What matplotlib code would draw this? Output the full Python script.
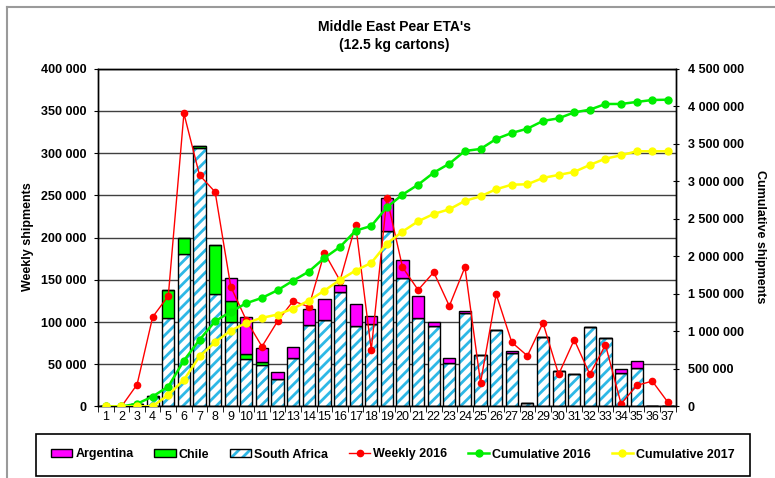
import matplotlib
matplotlib.use("Agg")
import matplotlib.pyplot as plt
from matplotlib.patches import Patch
from matplotlib.lines import Line2D
from matplotlib.legend_handler import HandlerTuple
from matplotlib.ticker import FuncFormatter, MultipleLocator, FixedLocator

plt.rcParams['font.family'] = ['Liberation Sans', 'DejaVu Sans']
plt.rcParams['hatch.linewidth'] = 2.0

# --- DATA ---
weeks = list(range(1, 38))

south_africa = [0, 0, 3000, 11000, 105000, 180000, 306000, 133000, 100000, 56000,
                49000, 32000, 58000, 97000, 102000, 135000, 95000, 98000, 208000, 152000,
                105000, 95000, 52000, 111000, 61000, 90000, 63500, 4500, 82500, 42500,
                38500, 94000, 81000, 40000, 46000, 0, 0]
chile = [0, 0, 0, 1000, 33000, 19000, 3000, 58000, 25000, 6000,
         4000, 0, 0, 0, 0, 0, 0, 0, 0, 0,
         0, 0, 0, 0, 0, 0, 0, 0, 0, 0,
         0, 0, 0, 0, 0, 0, 0]
argentina = [0, 0, 0, 0, 0, 0, 0, 0, 27000, 44000,
             16000, 9000, 12000, 19000, 25000, 9000, 26000, 9000, 39000, 22000,
             26000, 5000, 6000, 2000, 0, 0, 2000, 0, 0, 0,
             0, 0, 0, 4000, 8000, 0, 0]

weekly_2016 = [0, 0, 26000, 106000, 131000, 347000, 274000, 254000, 142000, 102000,
               71000, 101000, 125000, 118000, 182000, 149000, 215000, 67000, 247000, 165000,
               138000, 159000, 119000, 165000, 28000, 133000, 76000, 60000, 99000, 38000,
               79000, 38000, 73000, 3000, 25000, 30000, 5000]

cum_2016 = [0, 0, 36000, 133000, 266000, 612000, 888000, 1136000, 1262000, 1376000,
            1447000, 1549000, 1677000, 1797000, 1979000, 2126000, 2343000, 2405000, 2654000, 2822000,
            2955000, 3115000, 3235000, 3404000, 3431000, 3564000, 3644000, 3701000, 3804000, 3839000,
            3918000, 3954000, 4030000, 4030000, 4057000, 4083000, 4087000]

cum_2017 = [0, 0, 0, 4000, 155000, 355000, 666000, 856000, 1012000, 1114000,
            1181000, 1225000, 1305000, 1411000, 1544000, 1687000, 1811000, 1913000, 2170000, 2330000,
            2467000, 2565000, 2627000, 2739000, 2800000, 2894000, 2955000, 2960000, 3045000, 3085000,
            3125000, 3218000, 3302000, 3346000, 3400000, 3400000, 3400000]

# --- COLOURS ---
SA_BLUE = '#2EB8E6'
CHILE_GREEN = '#00FF00'
ARG_MAGENTA = '#FF00FF'

fig = plt.figure(figsize=(7.75, 4.78), dpi=100)
ax = fig.add_axes([0.1265, 0.1496, 0.7454, 0.7067])
ax2 = ax.twinx()

# outer chart border (left + top only visible)
fig.add_artist(Line2D([7/775, 7/775], [0, 1 - 7/478], color='#9a9a9a', lw=1.5))
fig.add_artist(Line2D([7/775, 1], [1 - 7/478, 1 - 7/478], color='#9a9a9a', lw=1.5))

bw = 0.78
# South Africa: hatched layer then black outline
ax.bar(weeks, south_africa, width=bw, color='white', edgecolor=SA_BLUE, hatch='///',
       linewidth=0, zorder=2)
ax.bar(weeks, south_africa, width=bw, color='none', edgecolor='black', linewidth=1, zorder=3)
bottom_c = south_africa
ax.bar(weeks, chile, width=bw, bottom=bottom_c, color=CHILE_GREEN, edgecolor='black',
       linewidth=1, zorder=3)
bottom_a = [s + c for s, c in zip(south_africa, chile)]
ax.bar(weeks, argentina, width=bw, bottom=bottom_a, color=ARG_MAGENTA, edgecolor='black',
       linewidth=1, zorder=3)

ax.plot(weeks, weekly_2016, color='red', lw=1, marker='o', markersize=4.5, zorder=4)
ax2.plot(weeks, cum_2016, color='#00EE00', lw=1.8, marker='o', markersize=5, zorder=4)
ax2.plot(weeks, cum_2017, color='#FFFF00', lw=1.8, marker='o', markersize=5, zorder=5)

# axes setup
ax.set_xlim(0.5, 37.5)
ax.set_ylim(0, 400000)
ax2.set_ylim(0, 4500000)

space_fmt = FuncFormatter(lambda v, p: f"{int(v):,}".replace(",", " "))
ax.yaxis.set_major_locator(MultipleLocator(50000))
ax.yaxis.set_major_formatter(space_fmt)
ax2.yaxis.set_major_locator(MultipleLocator(500000))
ax2.yaxis.set_major_formatter(space_fmt)

ax.set_axisbelow(True)
ax.yaxis.grid(True, color='#404040', lw=1)

ax.set_xticks(weeks)
ax.set_xticklabels([str(w) for w in weeks])
ax.xaxis.set_minor_locator(FixedLocator([w + 0.5 for w in range(0, 38)]))
ax.tick_params(axis='x', which='major', length=0, pad=3, labelsize=9)
ax.tick_params(axis='x', which='minor', length=4, direction='out', color='black')
ax.tick_params(axis='y', length=3, direction='out', pad=5.5, labelsize=9)
ax2.tick_params(axis='y', length=5, direction='inout', pad=6, labelsize=9)
for lab in ax.get_yticklabels() + ax2.get_yticklabels():
    lab.set_fontweight('bold')

for a in (ax, ax2):
    for s in a.spines.values():
        s.set_color('black')
        s.set_linewidth(1)

# titles and labels
fig.text(394/775, 1 - 36/478, "Middle East Pear ETA's\n(12.5 kg cartons)", ha='center',
         va='center', fontsize=10, fontweight='bold', linespacing=1.3)
fig.text(28/775, 1 - 237/478, "Weekly shipments", rotation=90, ha='center', va='center',
         fontsize=9, fontweight='bold')
fig.text(760/775, 1 - 237/478, "Cumulative shipments", rotation=270, ha='center', va='center',
         fontsize=9, fontweight='bold')

# legend
h_arg = Patch(facecolor=ARG_MAGENTA, edgecolor='black', linewidth=1)
h_chile = Patch(facecolor=CHILE_GREEN, edgecolor='black', linewidth=1)
h_sa = (Patch(facecolor='white', edgecolor=SA_BLUE, hatch='///', linewidth=0),
        Patch(facecolor='none', edgecolor='black', linewidth=1))
h_w16 = Line2D([], [], color='red', lw=1, marker='o', markersize=4.5)
h_c16 = Line2D([], [], color='#00EE00', lw=1.8, marker='o', markersize=5)
h_c17 = Line2D([], [], color='#FFFF00', lw=1.8, marker='o', markersize=5)

leg = fig.legend([h_arg, h_chile, h_sa, h_w16, h_c16, h_c17],
                 ["Argentina", "Chile", "South Africa", "Weekly 2016",
                  "Cumulative 2016", "Cumulative 2017"],
                 handler_map={tuple: HandlerTuple(ndivide=1)},
                 ncol=6, loc='center', bbox_to_anchor=(393/775, 1 - 454.5/478),
                 frameon=True, fancybox=False, edgecolor='black', framealpha=1,
                 borderpad=1.2, handlelength=1.7, handleheight=0.6, handletextpad=0.25,
                 columnspacing=1.65, prop={'size': 9, 'weight': 'bold'}, numpoints=1)
leg.get_frame().set_linewidth(1.2)

fig.savefig("out.png", dpi=100)
